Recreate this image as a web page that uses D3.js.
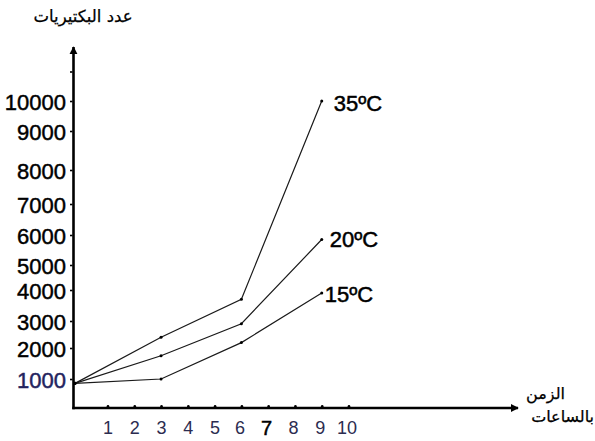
<!DOCTYPE html>
<html>
<head>
<meta charset="utf-8">
<script src="https://cdn.jsdelivr.net/npm/d3@7"></script>
<style>
  html, body { margin: 0; padding: 0; background: #fff; }
  svg { display: block; }
</style>
</head>
<body>
<svg id="chart" width="595" height="441"></svg>
<script>
// ---------------- data ----------------
const hours = [0, 3, 6, 9];
const seriesNames = ["35ºC", "20ºC", "15ºC"];
const values35 = [850, 2400, 3700, 10000];
const values20 = [850, 1750, 2900, 5850];
const values15 = [850, 1000, 2200, 3900];
const yTickValues = [1000, 2000, 3000, 4000, 5000, 6000, 7000, 8000, 9000, 10000, 11000];
const yTickLabels = ["1000", "2000", "3000", "4000", "5000", "6000", "7000", "8000", "9000", "10000", ""];
const xTickValues = [1, 2, 3, 4, 5, 6, 7, 8, 9, 10];
const xTickLabels = ["1", "2", "3", "4", "5", "6", "7", "8", "9", "10"];
const yTitle = "عدد البكتيريات";
const xTitleLines = ["الزمن", "بالساعات"];

// ---------------- layout ----------------
const svg = d3.select("#chart");
// the hand-drawn axes of the original are not evenly spaced: piecewise scales
const y = d3.scaleLinear()
  .domain([0, 1000, 2000, 3000, 4000, 5000, 6000, 7000, 8000, 9000, 10000, 11000])
  .range([408, 379, 348, 321, 290, 265, 235, 204, 170, 131, 101, 71.5]);
const x = d3.scaleLinear()
  .domain([0, 1, 10])
  .range([75, 107.5, 348.5]);

const axisX0 = 73.5;      // y-axis line position
const axisY0 = y(0);      // x-axis line position
const numFont = "'Liberation Sans', Arial, sans-serif";
const arFont = "'DejaVu Sans', sans-serif";

// axes lines with arrows
svg.append("defs").append("marker")
  .attr("id", "arrow").attr("viewBox", "0 0 10 10")
  .attr("refX", 9).attr("refY", 5)
  .attr("markerWidth", 3.2).attr("markerHeight", 3.2)
  .attr("orient", "auto")
  .append("path").attr("d", "M0,0 L10,5 L0,10 z").attr("fill", "#000");

svg.append("line")
  .attr("x1", axisX0).attr("y1", axisY0 + 1.2)
  .attr("x2", axisX0).attr("y2", 47)
  .attr("stroke", "#000").attr("stroke-width", 2.6)
  .attr("marker-end", "url(#arrow)");
svg.append("line")
  .attr("x1", axisX0 - 1.2).attr("y1", axisY0)
  .attr("x2", 518).attr("y2", axisY0)
  .attr("stroke", "#000").attr("stroke-width", 2.6)
  .attr("marker-end", "url(#arrow)");

// y ticks
const yAxis = d3.axisLeft(y)
  .tickValues(yTickValues)
  .tickSize(2.5)
  .tickPadding(4)
  .tickFormat((d, i) => yTickLabels[i]);
const gy = svg.append("g").attr("transform", `translate(${axisX0 - 1},0)`).call(yAxis);
gy.select(".domain").remove();
gy.selectAll(".tick line").attr("stroke", "#000").attr("stroke-width", 1.6);
gy.selectAll(".tick text")
  .attr("font-family", numFont).attr("font-size", 22)
  .attr("fill", (d) => d === 1000 ? "#23235e" : "#000")
  .attr("stroke", (d) => d === 1000 ? "#23235e" : "#000")
  .attr("stroke-width", 0.45)
  .attr("dy", "0.4em");

// x ticks
const xAxis = d3.axisBottom(x)
  .tickValues(xTickValues)
  .tickSize(0)
  .tickPadding(13)
  .tickFormat((d, i) => xTickLabels[i]);
const gx = svg.append("g").attr("transform", `translate(0,${axisY0})`).call(xAxis);
gx.select(".domain").remove();
gx.selectAll(".tick text")
  .attr("font-family", numFont)
  .attr("font-size", (d) => d === 7 ? 20 : 18)
  .attr("fill", (d) => d === 7 ? "#000" : "#2c2c50")
  .attr("stroke", (d) => d === 7 ? "#000" : "none")
  .attr("stroke-width", 0.5)
  .attr("dx", (d) => d >= 6 ? -2 : 0);
gx.selectAll(".tick").append("circle")
  .attr("cx", 0).attr("cy", -1.8).attr("r", 1.3).attr("fill", "#000");

// lines
const allSeries = [values35, values20, values15];
const line = d3.line().x((d, i) => x(hours[i])).y((d) => y(d));
const gLines = svg.append("g");
allSeries.forEach((vals, si) => {
  gLines.append("path")
    .attr("d", line(vals))
    .attr("fill", "none")
    .attr("stroke", "#1a1a1a")
    .attr("stroke-width", 1.2);
  gLines.selectAll(null).data(vals).enter().append("circle")
    .attr("cx", (d, i) => x(hours[i]))
    .attr("cy", (d) => y(d))
    .attr("r", 1.5)
    .attr("fill", "#000");
  // series label at end
  const last = vals.length - 1;
  svg.append("text")
    .attr("x", x(hours[last]) + (si === 0 ? 12 : si === 1 ? 8 : 3))
    .attr("y", y(vals[last]) + (si === 0 ? 10 : si === 1 ? 7 : 9))
    .attr("font-family", numFont)
    .attr("font-size", 22)
    .attr("fill", "#000")
    .attr("stroke", "#000")
    .attr("stroke-width", 0.5)
    .text(seriesNames[si]);
});

// titles
svg.append("text")
  .attr("x", 83).attr("y", 22)
  .attr("text-anchor", "middle")
  .attr("font-family", arFont)
  .attr("font-size", 16.5)
  .attr("fill", "#000")
  .attr("stroke", "#000")
  .attr("stroke-width", 0.25)
  .attr("direction", "rtl")
  .text(yTitle);

const xt = svg.append("text")
  .attr("font-family", arFont)
  .attr("font-size", 16)
  .attr("fill", "#000")
  .attr("stroke", "#000")
  .attr("stroke-width", 0.25)
  .attr("direction", "rtl");
xTitleLines.forEach((t, i) => {
  xt.append("tspan")
    .attr("x", i === 0 ? 565 : 594)
    .attr("y", i === 0 ? 399 : 422)
    .text(t);
});
</script>
</body>
</html>
